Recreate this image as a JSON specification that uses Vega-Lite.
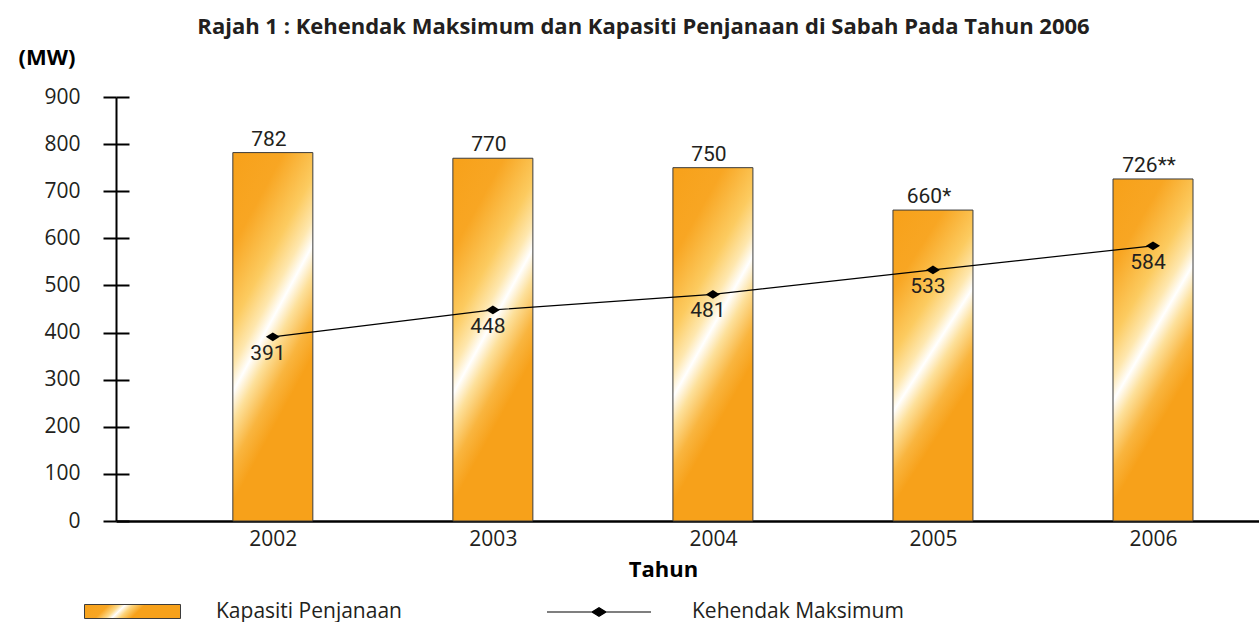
{
  "$schema": "https://vega.github.io/schema/vega-lite/v6.json",
  "width": 1143,
  "height": 424,
  "autosize": {"type": "none"},
  "padding": {"left": 116, "top": 97, "right": 0, "bottom": 101},
  "background": "white",
  "title": {
    "text": "Rajah 1 : Kehendak Maksimum dan Kapasiti Penjanaan di Sabah Pada Tahun 2006",
    "font": "Open Sans",
    "fontSize": 22,
    "fontWeight": "bold",
    "color": "#231F20",
    "anchor": "middle",
    "frame": "group",
    "dx": -44,
    "baseline": "alphabetic",
    "offset": -10
  },
  "data": {
    "values": [
      {"year": 2002, "capacity": 782, "capLabel": "782", "demand": 391},
      {"year": 2003, "capacity": 770, "capLabel": "770", "demand": 448},
      {"year": 2004, "capacity": 750, "capLabel": "750", "demand": 481},
      {"year": 2005, "capacity": 660, "capLabel": "660*", "demand": 533},
      {"year": 2006, "capacity": 726, "capLabel": "726**", "demand": 584}
    ]
  },
  "encoding": {
    "x": {
      "field": "year",
      "type": "quantitative",
      "scale": {"domain": [2001.31, 2006.459], "nice": false, "zero": false},
      "axis": {
        "title": "Tahun",
        "titleX": 547,
        "titleY": 55,
        "titleAlign": "center",
        "titleBaseline": "alphabetic",
        "titleFont": "Open Sans",
        "titleFontSize": 22,
        "titleFontWeight": "bold",
        "titleColor": "#000000",
        "values": [2002, 2002.5, 2003, 2003.5, 2004, 2004.5, 2005, 2005.5, 2006],
        "format": "d",
        "labelExpr": "datum.value % 1 === 0 ? datum.label : ''",
        "tickOpacity": {"condition": {"test": "datum.value % 1 === 0", "value": 0}, "value": 1},
        "tickSize": 5,
        "tickWidth": 2,
        "tickColor": "#000000",
        "domainColor": "#000000",
        "domainWidth": 2.5,
        "labelPadding": 2,
        "labelFont": "Open Sans",
        "labelFontSize": 21,
        "labelColor": "#231F20",
        "labelFlush": false,
        "labelOverlap": false,
        "grid": false
      }
    }
  },
  "layer": [
    {
      "mark": {
        "type": "bar",
        "orient": "vertical",
        "width": 80,
        "fill": {
          "gradient": "linear",
          "x1": 0, "y1": 0, "x2": 0.4, "y2": 1,
          "stops": [
            {"offset": 0, "color": "#F7A11A"},
            {"offset": 0.22, "color": "#F8A623"},
            {"offset": 0.4, "color": "#FCCB60"},
            {"offset": 0.5, "color": "#FEE7AE"},
            {"offset": 0.56, "color": "#FFFFFF"},
            {"offset": 0.63, "color": "#FDE09A"},
            {"offset": 0.73, "color": "#F9B53F"},
            {"offset": 0.82, "color": "#F7A11A"},
            {"offset": 1, "color": "#F7A11A"}
          ]
        },
        "stroke": "#3C3C3C",
        "strokeWidth": 1
      },
      "encoding": {
        "y": {
          "field": "capacity",
          "type": "quantitative",
          "scale": {"domain": [0, 900], "nice": false},
          "axis": {
            "title": "(MW)",
            "titleAngle": 0,
            "titleAlign": "left",
            "titleBaseline": "alphabetic",
            "titleX": -98,
            "titleY": -33,
            "titleFont": "Open Sans",
            "titleFontSize": 22,
            "titleFontWeight": "bold",
            "titleColor": "#000000",
            "values": [0, 100, 200, 300, 400, 500, 600, 700, 800, 900],
            "tickSize": 13,
            "tickWidth": 2,
            "tickColor": "#000000",
            "domainColor": "#000000",
            "domainWidth": 2,
            "labelPadding": 23,
            "labelFont": "Open Sans",
            "labelFontSize": 21,
            "labelColor": "#231F20",
            "labelFlush": false,
            "labelOverlap": false,
            "grid": true,
            "gridDash": [13, 3000],
            "gridColor": "#000000",
            "gridWidth": 2,
            "gridOpacity": 1
          }
        }
      }
    },
    {
      "mark": {"type": "text", "baseline": "alphabetic", "dy": -7, "dx": -4, "fontSize": 21, "font": "Roboto", "color": "#231F20"},
      "encoding": {
        "y": {"field": "capacity", "type": "quantitative"},
        "text": {"field": "capLabel"}
      }
    },
    {
      "mark": {"type": "line", "color": "#000000", "strokeWidth": 1.2},
      "encoding": {
        "y": {"field": "demand", "type": "quantitative"}
      }
    },
    {
      "mark": {"type": "point", "shape": "M-1,0L0,-0.62L1,0L0,0.62Z", "size": 196, "filled": true, "color": "#000000", "opacity": 1},
      "encoding": {
        "y": {"field": "demand", "type": "quantitative"}
      }
    },
    {
      "mark": {"type": "text", "baseline": "top", "dy": 6, "dx": -5, "fontSize": 21, "font": "Roboto", "color": "#231F20"},
      "encoding": {
        "y": {"field": "demand", "type": "quantitative"},
        "text": {"field": "demand", "type": "quantitative"}
      }
    },
    {
      "mark": {
        "type": "point",
        "filled": true,
        "opacity": 0,
        "fill": {
          "gradient": "linear",
          "x1": 0, "y1": 0, "x2": 1, "y2": 0.15,
          "stops": [
            {"offset": 0, "color": "#F7A11A"},
            {"offset": 0.25, "color": "#F8A623"},
            {"offset": 0.36, "color": "#FDDA8A"},
            {"offset": 0.42, "color": "#FFFFFF"},
            {"offset": 0.5, "color": "#FDD47A"},
            {"offset": 0.62, "color": "#F7A11A"},
            {"offset": 1, "color": "#F7A11A"}
          ]
        },
        "stroke": "#3C3C3C",
        "strokeWidth": 1
      },
      "encoding": {
        "y": {"field": "capacity", "type": "quantitative"},
        "shape": {
          "datum": "Kapasiti Penjanaan",
          "type": "nominal",
          "scale": {"range": ["M-4.8,-0.7L4.8,-0.7L4.8,0.7L-4.8,0.7Z"]},
          "legend": {
            "orient": "none",
            "legendX": 6,
            "legendY": 504,
            "title": null,
            "padding": 0,
            "symbolSize": 400,
            "symbolOpacity": 1,
            "symbolStrokeWidth": 1,
            "labelFont": "Open Sans",
            "labelFontSize": 21,
            "labelColor": "#231F20",
            "labelLimit": 400,
            "labelOffset": 73
          }
        }
      }
    },
    {
      "mark": {"type": "point", "filled": true, "opacity": 0, "color": "#000000", "fill": "#000000", "stroke": "#000000", "strokeWidth": 1.2},
      "encoding": {
        "y": {"field": "demand", "type": "quantitative"},
        "shape": {
          "datum": "Kehendak Maksimum",
          "type": "nominal",
          "scale": {"range": ["M-5.2,0L5.2,0M-0.7,0L0,-0.42L0.7,0L0,0.42Z"]},
          "legend": {
            "orient": "none",
            "legendX": 472,
            "legendY": 504,
            "title": null,
            "padding": 0,
            "symbolSize": 400,
            "symbolOpacity": 1,
            "symbolStrokeWidth": 1.2,
            "labelFont": "Open Sans",
            "labelFontSize": 21,
            "labelColor": "#231F20",
            "labelLimit": 400,
            "labelOffset": 82
          }
        }
      }
    }
  ],
  "resolve": {"scale": {"shape": "independent"}, "legend": {"shape": "independent"}},
  "config": {
    "view": {"stroke": null}
  }
}
